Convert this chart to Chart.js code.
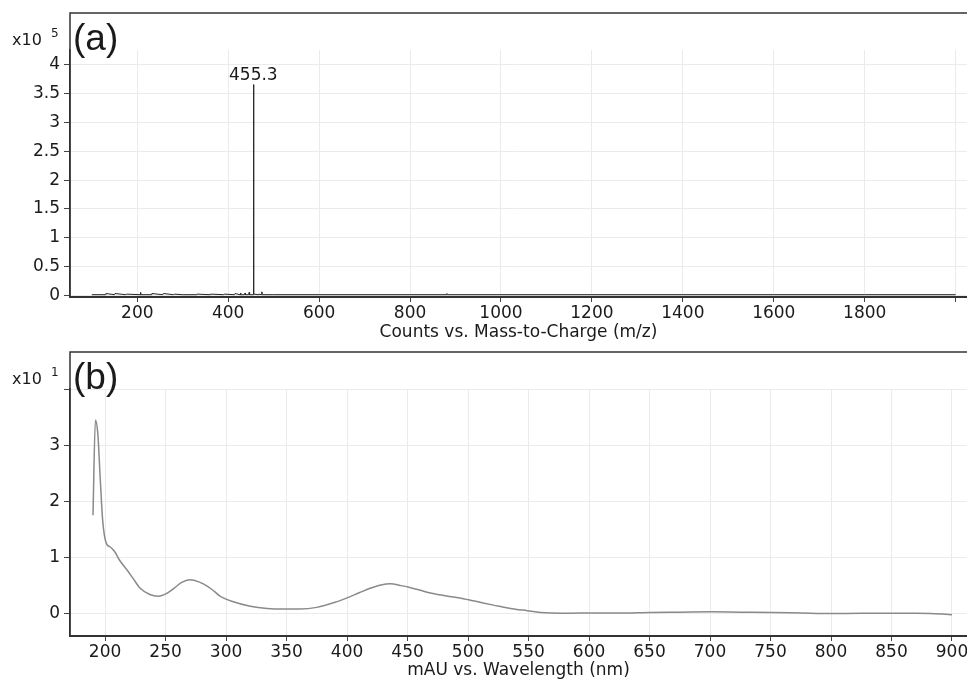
<!DOCTYPE html>
<html>
<head>
<meta charset="utf-8">
<script src="https://cdn.jsdelivr.net/npm/chart.js@4.4.0/dist/chart.umd.min.js"></script>
<style>
  html, body { margin: 0; padding: 0; background: #fff; }
  #wrap { position: relative; width: 967px; height: 681px; }
  canvas { position: absolute; left: 0; }
  #msChart { top: 0; }
  #uvChart { top: 340px; }
</style>
</head>
<body>
<div id="wrap">
  <canvas id="msChart" width="967" height="350"></canvas>
  <canvas id="uvChart" width="967" height="341"></canvas>
</div>
<script>
// (a) mass spectrum, counts in units of 1e5
const mzValues = [100, 130, 131, 150, 151, 175, 176, 206, 207, 208, 231, 232, 256, 257, 280, 281,
  300, 330, 331, 360, 361, 390, 391, 414, 415, 426, 427, 428, 436, 437, 438, 445, 446, 447,
  454.8, 455.3, 455.8, 456.1, 456.4, 456.7, 466, 467, 473, 474, 475, 500, 600, 800,
  880, 881, 882, 1000, 1200, 1400, 1600, 1800, 2000];
const msCounts = [0.01, 0.01, 0.03, 0.01, 0.03, 0.01, 0.02, 0.01, 0.05, 0.01, 0.01, 0.03, 0.01, 0.03, 0.01, 0.02,
  0.01, 0.01, 0.02, 0.01, 0.02, 0.01, 0.02, 0.01, 0.03, 0.01, 0.04, 0.01, 0.01, 0.04, 0.01, 0.01, 0.05, 0.01,
  0.01, 3.66, 0.02, 0.02, 1.16, 0.02, 0.01, 0.02, 0.01, 0.06, 0.01, 0.01, 0.01, 0.01,
  0.01, 0.03, 0.01, 0.01, 0.01, 0.01, 0.01, 0.01, 0.01];
const msTicksX = [200, 400, 600, 800, 1000, 1200, 1400, 1600, 1800, 2000];
const msTickLabelsX = ["200", "400", "600", "800", "1000", "1200", "1400", "1600", "1800", ""];
const msTicksY = [0, 0.5, 1, 1.5, 2, 2.5, 3, 3.5, 4];
const msTickLabelsY = ["0", "0.5", "1", "1.5", "2", "2.5", "3", "3.5", "4"];
const msPeak = { mz: 455.3, value: 3.66, label: "455.3" };

// (b) UV-Vis spectrum, mAU in units of 1e1
const wavelengths = [190, 192, 194, 196, 198, 201, 204, 208, 212, 218, 223, 229, 237, 244, 251, 257, 263, 270,
  278, 285, 290, 295, 306, 320, 334, 347, 361, 375, 390, 400, 410, 419, 428, 436, 444, 451, 460, 468,
  480, 497, 510, 521, 535, 549, 560, 569, 585, 600, 625, 650, 675, 701, 725, 752, 775, 800, 825, 848,
  870, 882, 892, 900];
const mauValues = [1.75, 3.45, 3.2, 2.4, 1.66, 1.25, 1.19, 1.1, 0.95, 0.78, 0.63, 0.45, 0.34, 0.31, 0.36, 0.45, 0.55, 0.6,
  0.56, 0.48, 0.4, 0.31, 0.21, 0.13, 0.09, 0.08, 0.08, 0.11, 0.2, 0.28, 0.37, 0.45, 0.51, 0.53, 0.5, 0.47, 0.42, 0.37,
  0.32, 0.26, 0.2, 0.15, 0.09, 0.05, 0.02, 0.01, 0.005, 0.01, 0.01, 0.02, 0.025, 0.03, 0.025, 0.02, 0.01, 0.0, 0.005, 0.005,
  0.005, 0.0, -0.01, -0.02];
const uvTicksX = [200, 250, 300, 350, 400, 450, 500, 550, 600, 650, 700, 750, 800, 850, 900];
const uvTicksY = [0, 1, 2, 3, 4];
const uvTickLabelsY = ["0", "1", "2", "3", ""];

const FONT = '"DejaVu Sans", sans-serif';
const BIG_FONT = '"Liberation Sans", Arial, sans-serif';
const TEXT = "#1a1a1a";

const panelFrame = {
  id: "panelFrame",
  afterDraw(chart, args, opts) {
    const { ctx, chartArea: a } = chart;
    ctx.save();
    ctx.strokeStyle = "#333";
    ctx.lineWidth = 1.5;
    ctx.beginPath();
    ctx.moveTo(a.left, a.bottom);
    ctx.lineTo(a.left, opts.top);
    ctx.lineTo(chart.width, opts.top);
    ctx.stroke();

    ctx.fillStyle = TEXT;
    ctx.textBaseline = "alphabetic";
    ctx.textAlign = "left";
    ctx.font = "37px " + BIG_FONT;
    ctx.fillText(opts.label, a.left + 3, opts.top + 37);
    ctx.font = "16px " + FONT;
    ctx.fillText("x10", 12, opts.top + 32);
    ctx.font = "12px " + FONT;
    ctx.fillText(opts.exp, 51, opts.top + 24);

    if (opts.peak) {
      const x = chart.scales.x.getPixelForValue(opts.peak.mz);
      const y = chart.scales.y.getPixelForValue(opts.peak.value);
      ctx.font = "17px " + FONT;
      ctx.textAlign = "center";
      ctx.fillText(opts.peak.label, x, y - 5);
    }
    ctx.restore();
  }
};

function fixedTicks(values) {
  return scale => { scale.ticks = values.map(v => ({ value: v })); };
}

function makeSpectrum(id, cfg) {
  const canvas = document.getElementById(id);
  return new Chart(canvas, {
    type: "line",
    data: {
      datasets: [{
        data: cfg.xs.map((x, i) => ({ x: x, y: cfg.ys[i] })),
        borderColor: cfg.color,
        borderWidth: cfg.width,
        pointRadius: 0,
        fill: false,
        cubicInterpolationMode: cfg.smooth ? "monotone" : "default",
      }],
    },
    options: {
      responsive: false,
      animation: false,
      events: [],
      layout: { padding: { top: cfg.plotTop, left: 0, right: 0, bottom: 0 } },
      plugins: {
        legend: { display: false },
        tooltip: { enabled: false },
        panelFrame: { top: cfg.frameTop, label: cfg.label, exp: cfg.exp, peak: cfg.peak },
      },
      scales: {
        x: {
          type: "linear",
          min: cfg.xMin,
          max: cfg.xMax,
          afterBuildTicks: fixedTicks(cfg.xTicks),
          afterFit: s => {
            s.height = cfg.xAxisHeight;
            s.paddingLeft = 0;
            s.paddingRight = 0;
          },
          ticks: {
            autoSkip: false,
            maxRotation: 0,
            padding: 1,
            color: TEXT,
            font: { family: FONT, size: 17 },
            callback: (v, i) => cfg.xLabels[i],
          },
          grid: { color: "#ebebeb", lineWidth: 1, tickLength: 5, tickColor: "#444" },
          border: { color: "#333", width: 2 },
          title: {
            display: true,
            text: cfg.xTitle,
            color: TEXT,
            font: { family: FONT, size: 17 },
            padding: { top: 0, bottom: cfg.titlePad },
          },
        },
        y: {
          type: "linear",
          min: cfg.yMin,
          max: cfg.yMax,
          afterBuildTicks: fixedTicks(cfg.yTicks),
          afterFit: s => {
            s.width = 70;
            s.paddingTop = 0;
            s.paddingBottom = 0;
          },
          ticks: {
            padding: 4,
            color: TEXT,
            font: { family: FONT, size: 17 },
            callback: (v, i) => cfg.yLabels[i],
          },
          grid: { color: "#ebebeb", lineWidth: 1, tickLength: 6, tickColor: "#444" },
          border: { color: "#333", width: 1.5 },
        },
      },
    },
    plugins: [panelFrame],
  });
}

document.addEventListener("DOMContentLoaded", () => {
  makeSpectrum("msChart", {
    xs: mzValues, ys: msCounts, color: "#222", width: 1, smooth: false,
    xMin: 52, xMax: 2025, yMin: -0.03, yMax: 4.26,
    xTicks: msTicksX, xLabels: msTickLabelsX, yTicks: msTicksY, yLabels: msTickLabelsY,
    plotTop: 50, frameTop: 13, xAxisHeight: 53, titlePad: 7,
    xTitle: "Counts vs. Mass-to-Charge (m/z)", label: "(a)", exp: "5", peak: msPeak,
  });
  makeSpectrum("uvChart", {
    xs: wavelengths, ys: mauValues, color: "#8a8a8a", width: 1.5, smooth: true,
    xMin: 171, xMax: 912.4, yMin: -0.4, yMax: 4,
    xTicks: uvTicksX, xLabels: uvTicksX.map(String), yTicks: uvTicksY, yLabels: uvTickLabelsY,
    plotTop: 49, frameTop: 12, xAxisHeight: 45, titlePad: 0,
    xTitle: "mAU vs. Wavelength (nm)", label: "(b)", exp: "1", peak: null,
  });
});
</script>
</body>
</html>
